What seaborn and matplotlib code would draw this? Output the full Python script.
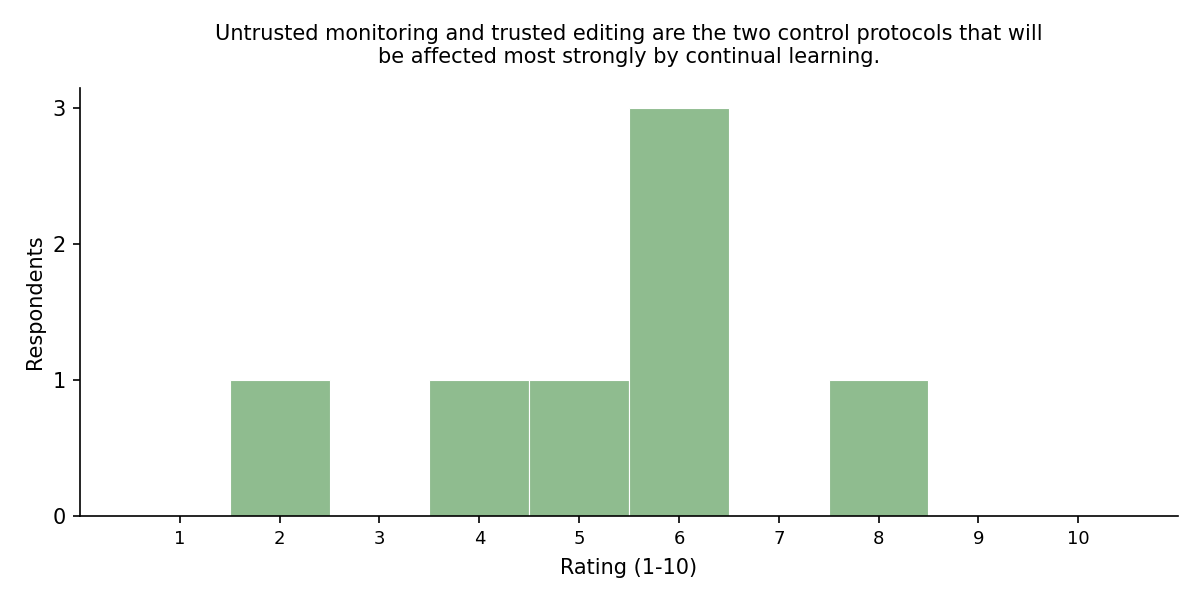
import numpy as np
import pandas as pd
import matplotlib
matplotlib.use("Agg")
import matplotlib.pyplot as plt
import seaborn as sns

# Survey answers (rating 1-10), one entry per respondent
ratings = [2, 4, 5, 6, 6, 6, 8]
rating_ticks = list(range(1, 11))
count_ticks = [0, 1, 2, 3]

title = ("Untrusted monitoring and trusted editing are the two control protocols that will\n"
         "be affected most strongly by continual learning.")

plt.rcParams['font.family'] = ['DejaVu Sans']
plt.rcParams['axes.linewidth'] = 1.2
plt.rcParams['xtick.major.width'] = 1.2
plt.rcParams['ytick.major.width'] = 1.2
plt.rcParams['xtick.major.size'] = 5.25
plt.rcParams['ytick.major.size'] = 5.25
plt.rcParams['xtick.major.pad'] = 5
plt.rcParams['ytick.major.pad'] = 5

df = pd.DataFrame({'rating': ratings})

fig, ax = plt.subplots(figsize=(12, 6), dpi=100)
sns.histplot(data=df, x='rating', bins=np.arange(0.5, 11.5, 1),
             color='#8fbc8f', alpha=1.0, edgecolor='white', linewidth=0.8, ax=ax)

ax.set_xlim(0, 11)
ax.set_xticks(rating_ticks)
ax.set_xticklabels([str(t) for t in rating_ticks], fontsize=13)
ax.set_yticks(count_ticks)
ax.tick_params(axis='y', labelsize=15)
ax.set_xlabel('Rating (1-10)', fontsize=15, labelpad=7)
ax.set_ylabel('Respondents', fontsize=15, labelpad=5.5)
ax.set_title(title, fontsize=15, pad=18)
sns.despine(ax=ax)

fig.subplots_adjust(left=0.0667, right=0.9817, bottom=0.14, top=0.8533)
plt.savefig('out.png', dpi=100)
plt.close()
